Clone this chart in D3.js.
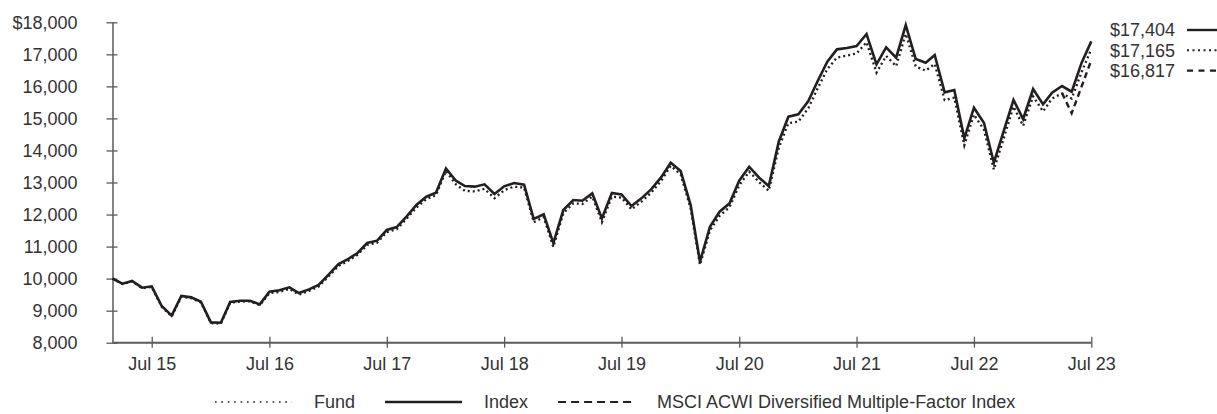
<!DOCTYPE html>
<html>
<head>
<meta charset="utf-8">
<script src="https://cdn.jsdelivr.net/npm/d3@7"></script>
<style>
  body { margin: 0; background: #fff; }
  svg { display: block; font-family: "Liberation Sans", Arial, sans-serif; }
</style>
</head>
<body>
<svg id="chart" width="1217" height="414"></svg>
<script>
// Growth of $10,000, month-end values from Mar 2015 to Jul 2023
const firstMonth = new Date(2015, 2, 1);
const lastMonth = new Date(2023, 6, 1);

const indexValues = [
  10000, 9843, 9925, 9717, 9760, 9145, 8844, 9457, 9415, 9280,
  8635, 8625, 9270, 9311, 9311, 9197, 9592, 9634, 9727, 9550, 9665, 9800,
  10122, 10456, 10601, 10799, 11111, 11184, 11517, 11610, 11943, 12297, 12557, 12682,
  13440, 13055, 12890, 12870, 12942, 12640, 12880, 12983, 12930, 11860, 12006, 11110,
  12141, 12453, 12432, 12661, 11881, 12671, 12630, 12266, 12505, 12786, 13160, 13618,
  13358, 12297, 10528, 11621, 12089, 12349, 13056, 13493, 13150, 12890, 14274, 15054,
  15127, 15543, 16143, 16771, 17156, 17197, 17260, 17634, 16687, 17218, 16895, 17915,
  16854, 16739, 16979, 15813, 15886, 14378, 15335, 14867, 13618, 14586, 15574, 14981,
  15918, 15439, 15803, 16011, 15834, 16739, 17404
];

const fundValues = [
  10000, 9830, 9910, 9700, 9740, 9120, 8820, 9430, 9390, 9255,
  8610, 8600, 9245, 9285, 9290, 9170, 9545, 9585, 9680, 9500, 9615, 9750,
  10070, 10400, 10545, 10740, 11050, 11120, 11450, 11540, 11870, 12220, 12480, 12600,
  13360, 12940, 12740, 12720, 12800, 12510, 12760, 12870, 12840, 11760, 11920, 10990,
  12040, 12350, 12330, 12560, 11760, 12560, 12530, 12160, 12400, 12680, 13050, 13520,
  13250, 12190, 10430, 11500, 11960, 12230, 12910, 13340, 13010, 12740, 14080, 14850,
  14900, 15320, 15920, 16540, 16900, 16960, 17030, 17380, 16430, 16950, 16630, 17640,
  16620, 16490, 16700, 15570, 15650, 14160, 15120, 14650, 13400, 14360, 15370, 14770,
  15690, 15220, 15620, 15780, 15620, 16450, 17165
];

// MSCI ACWI Diversified Multiple-Factor Index, shown from Apr 2023
const msciFirstMonth = new Date(2023, 3, 1);
const msciValues = [15790, 15160, 16000, 16817];

const yTickValues = [8000, 9000, 10000, 11000, 12000, 13000, 14000, 15000, 16000, 17000, 18000];
const xTickYears = [2015, 2016, 2017, 2018, 2019, 2020, 2021, 2022, 2023];

const seriesNames = ["Fund", "Index", "MSCI ACWI Diversified Multiple-Factor Index"];

const months = d3.timeMonth.range(firstMonth, d3.timeMonth.offset(lastMonth, 1));
const msciMonths = d3.timeMonth.range(msciFirstMonth, d3.timeMonth.offset(lastMonth, 1));

const fund = months.map((d, i) => ({ date: d, value: fundValues[i] }));
const index = months.map((d, i) => ({ date: d, value: indexValues[i] }));
const msci = msciMonths.map((d, i) => ({ date: d, value: msciValues[i] }));

const ink = "#231f20";
const textColor = "#333";
const axisColor = "#5a5a5a";

const svg = d3.select("#chart");

const x = d3.scaleTime().domain([firstMonth, lastMonth]).range([112.5, 1091.3]);
const y = d3.scaleLinear().domain([8000, 18000]).range([342.7, 22.3]);

// Y axis
const yAxis = svg.append("g")
  .attr("transform", `translate(${x.range()[0]},0)`)
  .call(d3.axisLeft(y)
    .tickValues(yTickValues)
    .tickSize(6)
    .tickPadding(29)
    .tickFormat(v => v === 18000 ? d3.format("$,")(v) : d3.format(",")(v)));
yAxis.select(".domain").attr("stroke", axisColor).attr("stroke-width", 1.5)
  .attr("d", `M0.5,${y(8000)}V${y(18000)}`);
yAxis.selectAll(".tick line").attr("stroke", axisColor).attr("stroke-width", 1.3).attr("x1", 5);
yAxis.selectAll(".tick text").attr("fill", textColor).attr("font-size", 18);

// X axis
const xAxis = svg.append("g")
  .attr("transform", `translate(0,${y(8000)})`)
  .call(d3.axisBottom(x)
    .tickValues(xTickYears.map(yr => new Date(yr, 6, 1)))
    .tickSize(5)
    .tickPadding(10)
    .tickFormat(d3.timeFormat("%b %y")));
xAxis.select(".domain").attr("stroke", axisColor).attr("stroke-width", 2)
  .attr("d", `M${x.range()[0]},0H${x.range()[1]}`);
xAxis.selectAll(".tick line").attr("stroke", axisColor).attr("stroke-width", 1.3).attr("y1", -6);
xAxis.selectAll(".tick text").attr("fill", textColor).attr("font-size", 18);

// Lines
const line = d3.line().x(d => x(d.date)).y(d => y(d.value));

svg.append("path").datum(index)
  .attr("fill", "none").attr("stroke", ink).attr("stroke-width", 2.6)
  .attr("stroke-linejoin", "miter").attr("d", line);

svg.append("path").datum(fund)
  .attr("fill", "none").attr("stroke", ink).attr("stroke-width", 2.3)
  .attr("stroke-dasharray", "2,3").attr("d", line);

svg.append("path").datum(msci)
  .attr("fill", "none").attr("stroke", ink).attr("stroke-width", 2.4)
  .attr("stroke-dasharray", "6,4").attr("d", line);

// Ending values, stacked at the top right
const endItems = [
  { value: indexValues[indexValues.length - 1], dash: null, width: 2.4 },
  { value: fundValues[fundValues.length - 1], dash: "2,3.5", width: 2 },
  { value: msciValues[msciValues.length - 1], dash: "6,5.5", width: 2.2 }
];
const endG = svg.append("g");
endItems.forEach((it, i) => {
  const cy = 30 + i * 20.3;
  endG.append("text")
    .attr("x", 1175).attr("y", cy).attr("dy", "0.35em")
    .attr("text-anchor", "end")
    .attr("fill", textColor).attr("font-size", 18)
    .text(d3.format("$,")(it.value));
  endG.append("line")
    .attr("x1", 1187).attr("x2", 1217).attr("y1", cy).attr("y2", cy)
    .attr("stroke", ink).attr("stroke-width", it.width)
    .attr("stroke-dasharray", it.dash);
});

// Legend
const legendItems = [
  { name: seriesNames[0], dash: "1.6,4.8", width: 1.6 },
  { name: seriesNames[1], dash: null, width: 2.6 },
  { name: seriesNames[2], dash: "8,5", width: 2.2 }
];
const legend = svg.append("g");
const legendY = 402;
let lx = 215;
legendItems.forEach(it => {
  legend.append("line")
    .attr("x1", lx).attr("x2", lx + 77).attr("y1", legendY).attr("y2", legendY)
    .attr("stroke", ink).attr("stroke-width", it.width)
    .attr("stroke-dasharray", it.dash);
  lx += 77 + 22;
  const t = legend.append("text")
    .attr("x", lx).attr("y", legendY).attr("dy", "0.35em")
    .attr("fill", textColor).attr("font-size", 18)
    .text(it.name);
  lx += t.node().getComputedTextLength() + 30;
});
</script>
</body>
</html>
